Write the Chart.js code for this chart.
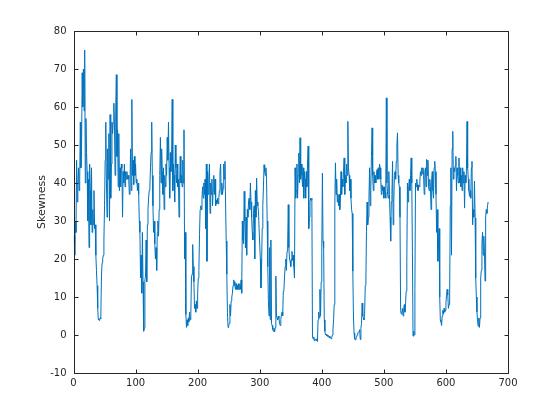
<!DOCTYPE html>
<html>
<head>
<meta charset="utf-8">
<script src="https://cdn.jsdelivr.net/npm/chart.js@4/dist/chart.umd.min.js"></script>
<style>
  body { margin: 0; background: #fff; }
</style>
</head>
<body>
<canvas id="skew" width="560" height="420"></canvas>
<script>
// skewness per sample (sample index starts at 1)
const seg1 = [26,21,30,27,46,35,40,44,38,41, 56,44,50,69,60,70,59,75,40,57,
  48,43,30,41,23,45,38,29,44,27, 33,29,38,28,29,21,17,13,7,4,
  4.2,3.8,4.5,4.3,15,19,20,21,25,34, 46,56,41,31,49,41,53,30,58,36,
  45,56,53,56,61,55,42,59,68.5,47, 54,39,53,38,44,39,45,44,31,43,
  40,45,39,43,41,43,41,42,41];
const seg2 = [37,40,49,38,62,42,46,39.6,47,42, 45,40,41,38,40,37,30,27,15,21,
  11,27,14,1,1.8,14.5,15.5,25,14,29, 33,36,38,38.7,44,48,56,42,34,27,
  30,24,20,23,17,27,30,26,33,42, 52,40,49,43,37,44,33,42,39,45,
  42,52,46,56,44,36,48,43,47,62, 38,45,42,35,50,44,40,45,39,41,
  31,39.5,47,40,42,39,46,40];
const seg3 = [54,20,27,5.4,2,4,2.5,4.5,3.5,6, 4,5.5,15,16,23.8,18,14,7,8,6,
  9,7,11,15,17,26.4,33,34,33,36, 39,36,40,37,41,28,45,19.4,43,37,
  41,45,32,40,37,41,34,38,42,37, 41,34,35.5,34.6,36,34.5,35.5,38,43,45,
  37,40,37,38.5,45,41,45.7,35,24.7,16, 6,2,2.5,3,8,5,9,10,11,13,
  14.5,14,13,12,13.5,12];
const seg4 = [13,12,13.5,12,13.5,12,14.5,11,30,25, 24,37.8,30,22.9,31,21,33,31,35,36,
  33,40,35,31,27,25,32,34,20,38, 31,41.3,35,34,32.5,28,28,20,12.4,18,
  28,34,39,44.8,43,42,44,41,30,18, 9,5,23,4,25,3,2.5,1.5,1,1.8,
  0.8,2,15.5,5,4.5,4,5,4.5,3,2.5, 4,5.5,6,5,11.5,12,15.5,18,20,17,
  22,24,34.3,23,20,19.5,18,20,22,19.6];
const seg5 = [21,18,15,44,36,38,45,36,42,47.9, 40,51.9,41,45,42,39,44,36,43,41,
  36,43,39,45,49.7,28,31,35,36,35.5, 36,-0.5,-1,-0.5,-1.5,-1,-1.3,-1.5,-1,-1.7,
  4,6,4.5,12,5,14,22,42.6,24.7,23, 4,1,0,0.2,-0.2,0,-0.4,-0.6,-0.3,-0.8,
  -0.6,-1,-0.7,0,1.5,4,8,34,45.3,37, 41,35,37,34,37,33,36,43,37,41,
  39,43,46.6,37,42,40,45,42,56.2];
const seg6 = [44,42,38,41,36,33,32,16.8,5,0.5, -1,-1.3,-0.8,-0.5,0,0.5,0.8,1,1.4,-1.2,
  1.8,3,8.4,5,4.5,4,5.5,13,13.2,27.3, 35,29,31,36,44,34,39,47,54.5,42,
  38,43,40,42,40,42,43.5,41,44,41, 45,44,41,37,39.5,38,39,36,39,37.5,
  36,62.4,40,37,36,43,37,31,24.7,35, 37,45.7,29,35,42,43,41,45.7,50,53.2,
  42,40,39,31,6.5,5.5,6,7,5];
const seg7 = [7,8,6,8.5,11.5,19.4,40,35,39,41, 38,42,46.6,40,22,-0.3,1,0,12,40,
  39,41,39.5,38,39.5,39,40.5,43,42,44, 42.5,44,42,37,43,44,39,46.2,42,46,
  39,38,41,39,33,41,43,38,36,44, 45.7,43,37,27,33,19.4,24,28,10,4,
  3.5,2.5,5,6.5,5.5,7,6,6.5,8.5,10.6, 12,10.5,7,8,10,34,44,21,49,53.6,
  41,44,43,44.5,47,38,44,42];
const seg8 = [40,46.6,40,44,39,42,38,44,40,43, 33.4,42,40,43,56.2,44,41,38,36.5,38,
  36,44,45.7,29,33,31,40.5,30.8,15,10, 6,3.5,2.3,4.5,2,4.5,15,17,24,27,
  21,26,22,14.2,31,33,32,34,35];

const skewness = [...seg1, ...seg2, ...seg3, ...seg4, ...seg5, ...seg6, ...seg7, ...seg8];
const samples = skewness.map((_, i) => i + 1);

const xTicks = [0, 100, 200, 300, 400, 500, 600, 700];
const yTicks = [-10, 0, 10, 20, 30, 40, 50, 60, 70, 80];

const axisColor = "#262626";
const tickFont = { family: "DejaVu Sans", size: 10 };

// matlab style box with inward ticks on all four sides
const boxTicks = {
  id: "boxTicks",
  afterDraw(chart) {
    const { ctx, chartArea: a, scales } = chart;
    const L = Math.round(a.left) + 0.5, R = Math.round(a.right) + 0.5;
    const T = Math.round(a.top) + 0.5, B = Math.round(a.bottom) + 0.5;
    ctx.save();
    ctx.strokeStyle = axisColor;
    ctx.lineWidth = 1;
    ctx.beginPath();
    ctx.rect(L, T, R - L, B - T);
    scales.x.ticks.forEach((t) => {
      const p = Math.round(scales.x.getPixelForValue(t.value)) + 0.5;
      ctx.moveTo(p, B); ctx.lineTo(p, B - 4);
      ctx.moveTo(p, T); ctx.lineTo(p, T + 4);
    });
    scales.y.ticks.forEach((t) => {
      const p = Math.round(scales.y.getPixelForValue(t.value)) + 0.5;
      ctx.moveTo(L, p); ctx.lineTo(L + 4, p);
      ctx.moveTo(R, p); ctx.lineTo(R - 4, p);
    });
    ctx.stroke();
    ctx.restore();
  },
};

new Chart(document.getElementById("skew").getContext("2d"), {
  type: "line",
  data: {
    datasets: [
      {
        data: samples.map((x, i) => ({ x: x, y: skewness[i] })),
        borderColor: "#0072BD",
        borderWidth: 1,
        pointRadius: 0,
        tension: 0,
        fill: false,
      },
    ],
  },
  options: {
    responsive: false,
    animation: false,
    layout: { padding: { top: 31, right: 52, left: 0, bottom: 0 } },
    plugins: { legend: { display: false }, tooltip: { enabled: false } },
    scales: {
      x: {
        type: "linear",
        min: xTicks[0],
        max: xTicks[xTicks.length - 1],
        afterBuildTicks: (s) => { s.ticks = xTicks.map((v) => ({ value: v })); },
        ticks: { color: axisColor, font: tickFont, padding: 4, maxRotation: 0 },
        grid: { display: false, drawTicks: false },
        border: { display: false },
        afterFit: (s) => { s.height = 47; },
      },
      y: {
        min: yTicks[0],
        max: yTicks[yTicks.length - 1],
        afterBuildTicks: (s) => { s.ticks = yTicks.map((v) => ({ value: v })); },
        ticks: { color: axisColor, font: tickFont, padding: 7 },
        grid: { display: false, drawTicks: false },
        border: { display: false },
        title: {
          display: true,
          text: "Skewness",
          color: axisColor,
          font: { family: "DejaVu Sans", size: 11 },
          padding: { top: 36, bottom: 0 },
        },
        afterFit: (s) => { s.width = 73.5; },
      },
    },
  },
  plugins: [boxTicks],
});
</script>
</body>
</html>
